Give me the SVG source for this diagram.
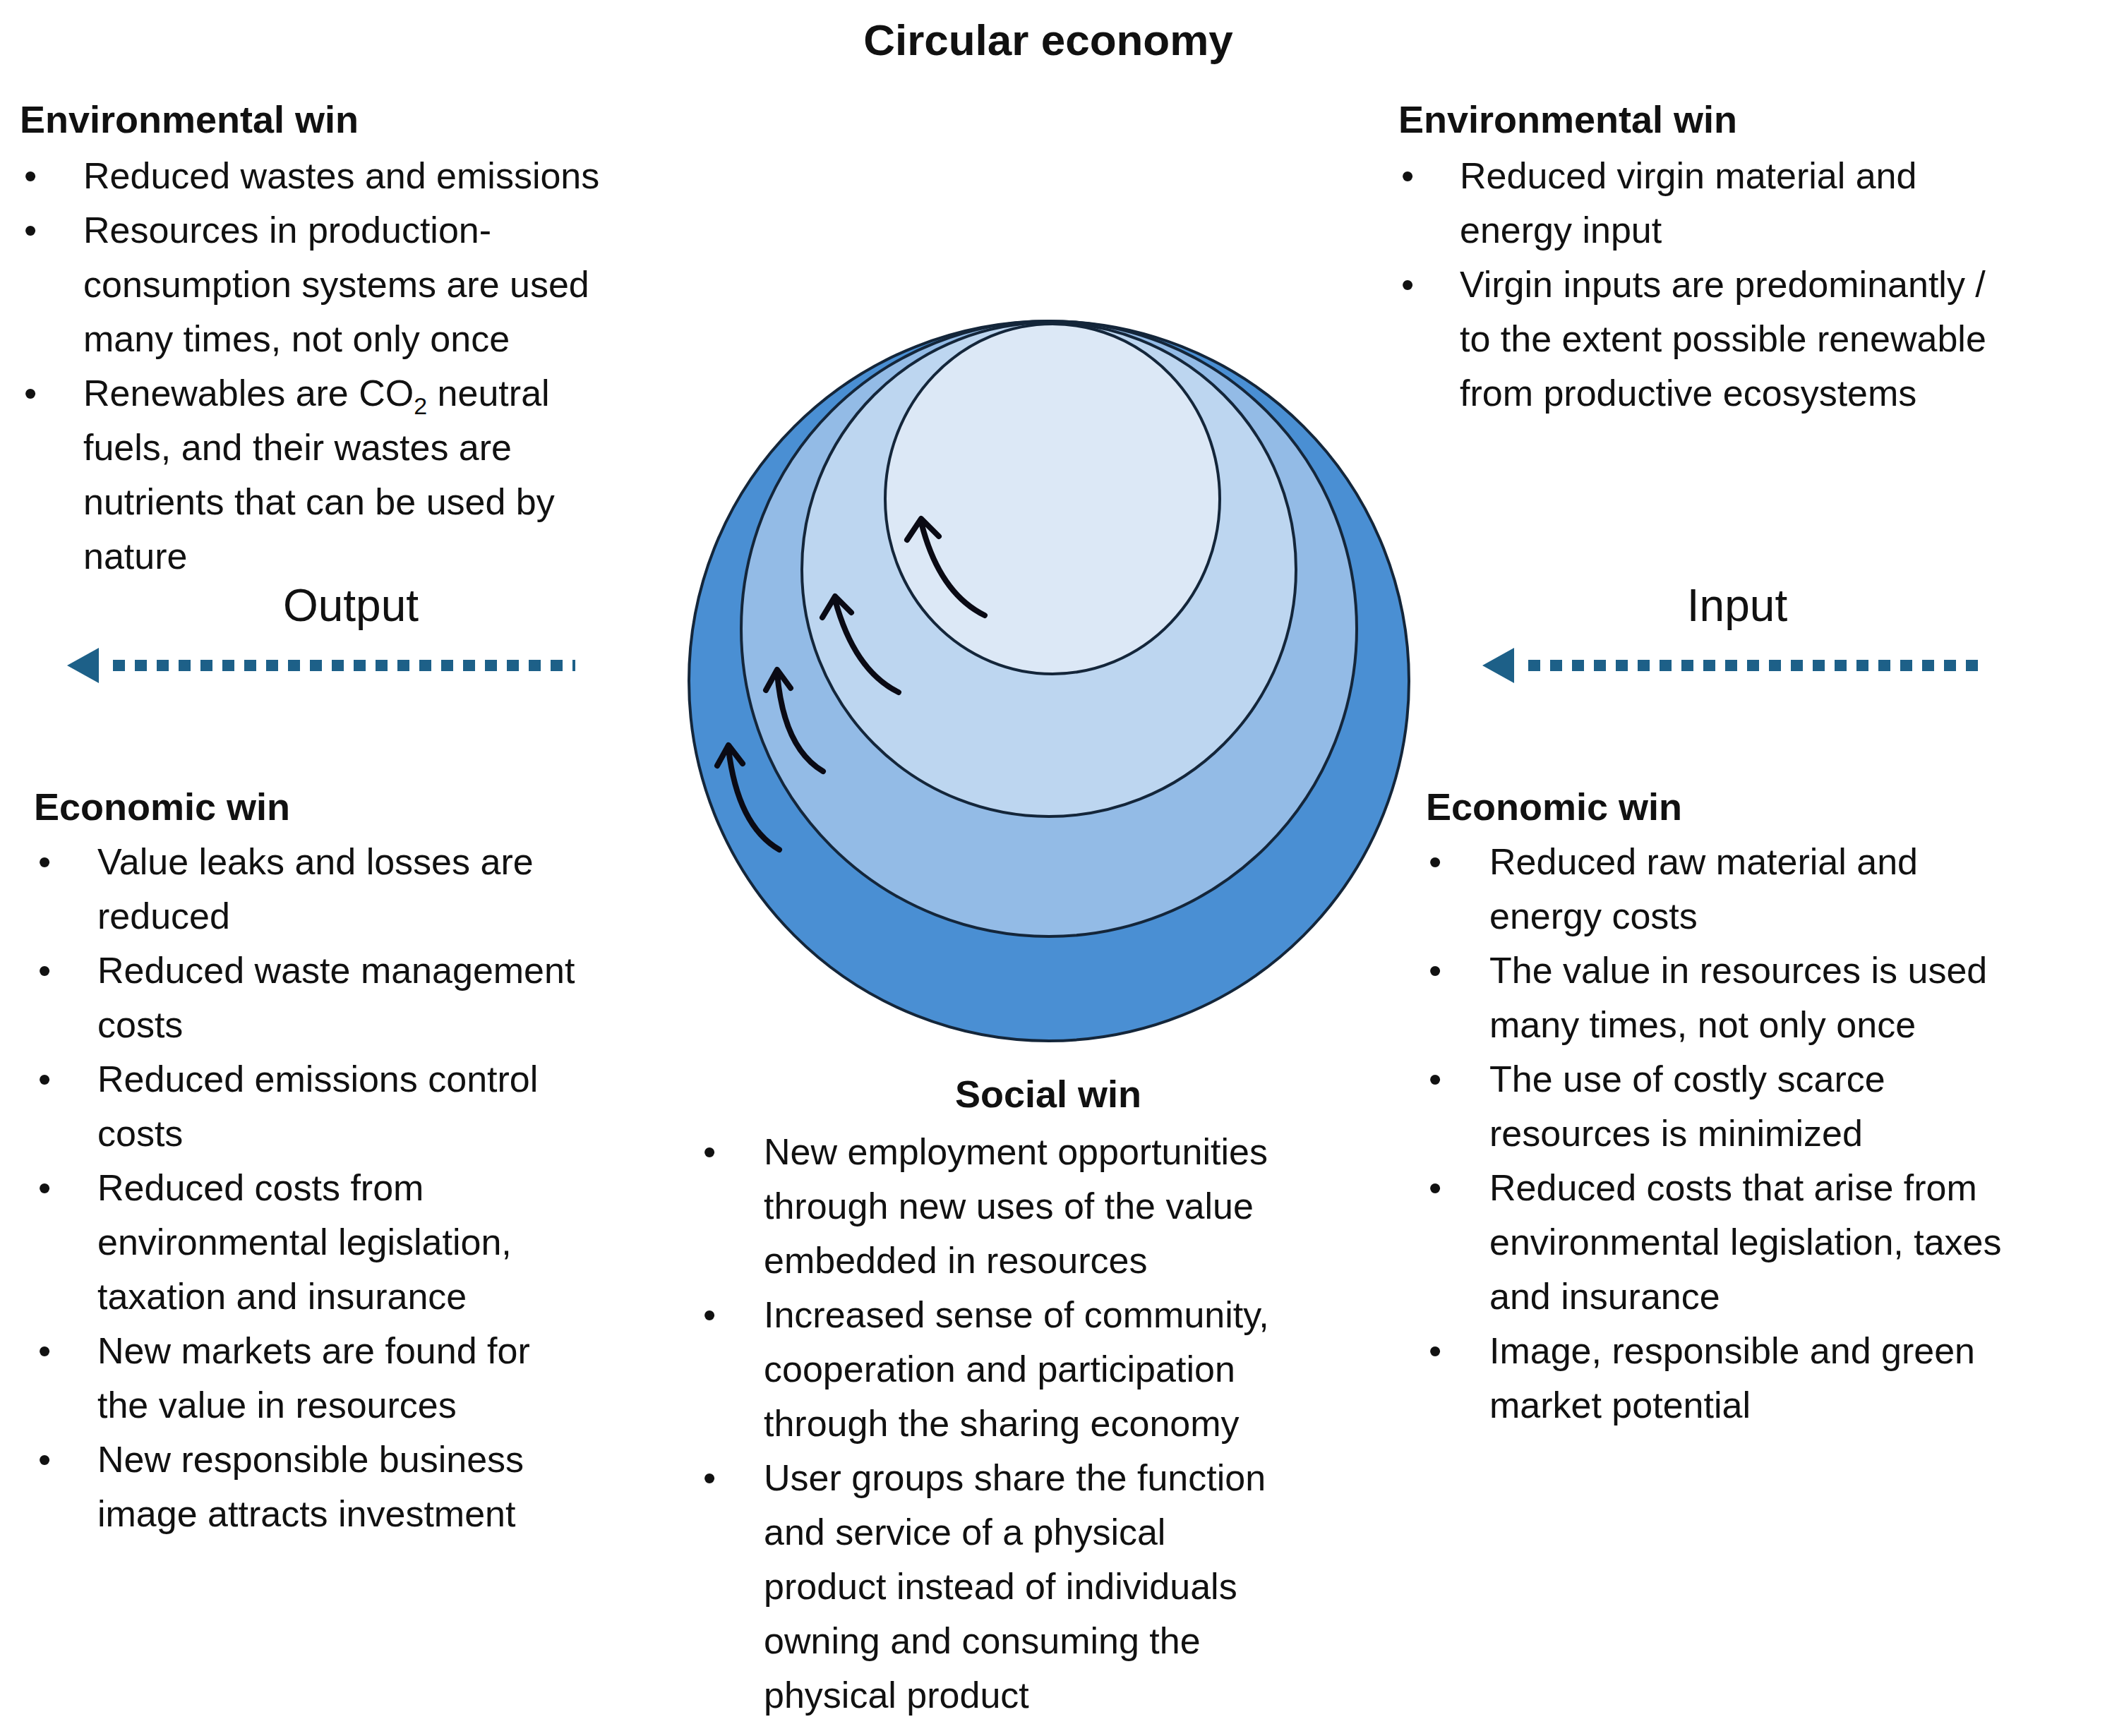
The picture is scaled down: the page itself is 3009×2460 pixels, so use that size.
<svg xmlns="http://www.w3.org/2000/svg" width="3009" height="2460" viewBox="0 0 3009 2460">
<style>
text{font-family:"Liberation Sans",Arial,sans-serif;fill:#111;}
.t{font-size:52px;}
.h{font-size:54px;font-weight:bold;}
.ttl{font-size:62px;font-weight:bold;}
.lbl{font-size:64px;}
.ring{stroke:#14263a;stroke-width:4;}
.carr{fill:none;stroke:#0a0a14;stroke-width:8;stroke-linecap:round;stroke-linejoin:round;}
.dash{stroke:#1d6088;stroke-width:16;stroke-dasharray:17 14;}
</style>
<rect width="3009" height="2460" fill="#fff"/>
<text class="ttl" x="1485" y="78" text-anchor="middle">Circular economy</text>
<g id="circles">
<circle class="ring" cx="1486" cy="965" r="510" fill="#4a8fd3"/>
<circle class="ring" cx="1486" cy="891" r="436" fill="#93bbe6"/>
<circle class="ring" cx="1486" cy="807" r="350" fill="#bdd6f0"/>
<ellipse class="ring" cx="1491" cy="707" rx="237" ry="248" fill="#dce8f6"/>
</g>
<g id="connectors">
<path class="carr" d="M1395,872 Q1330,840 1305,740 M1285,765 L1305,735 L1330,760"/>
<path class="carr" d="M1273,981 Q1210,950 1183,850 M1165,875 L1183,845 L1206,868"/>
<path class="carr" d="M1166,1093 Q1110,1060 1101,954 M1085,978 L1101,949 L1120,975"/>
<path class="carr" d="M1104,1204 Q1045,1170 1032,1061 M1016,1085 L1032,1056 L1052,1082"/>
<line class="dash" x1="160" y1="943" x2="815" y2="943"/>
<polygon points="95,943 140,918 140,968" fill="#1d6088"/>
<line class="dash" x1="2165" y1="943" x2="2810" y2="943"/>
<polygon points="2100,943 2145,918 2145,968" fill="#1d6088"/>
</g>
<g id="output"><text class="lbl" x="497" y="880" text-anchor="middle">Output</text></g>
<g id="input"><text class="lbl" x="2461" y="880" text-anchor="middle">Input</text></g>
<g id="env-left">
<text class="h" x="28" y="188">Environmental win</text>
<text class="t" x="34" y="267">•</text><text class="t" x="34" y="344">•</text><text class="t" x="34" y="575">•</text>
<text class="t" x="118" y="267">Reduced wastes and emissions</text>
<text class="t" x="118" y="344">Resources in production-</text>
<text class="t" x="118" y="421">consumption systems are used</text>
<text class="t" x="118" y="498">many times, not only once</text>
<text class="t" x="118" y="575">Renewables are CO<tspan font-size="34" dy="12">2</tspan><tspan dy="-12"> neutral</tspan></text>
<text class="t" x="118" y="652">fuels, and their wastes are</text>
<text class="t" x="118" y="729">nutrients that can be used by</text>
<text class="t" x="118" y="806">nature</text>
</g>
<g id="env-right">
<text class="h" x="1981" y="188">Environmental win</text>
<text class="t" x="1985" y="267">•</text><text class="t" x="1985" y="421">•</text>
<text class="t" x="2068" y="267">Reduced virgin material and</text>
<text class="t" x="2068" y="344">energy input</text>
<text class="t" x="2068" y="421">Virgin inputs are predominantly /</text>
<text class="t" x="2068" y="498">to the extent possible renewable</text>
<text class="t" x="2068" y="575">from productive ecosystems</text>
</g>
<g id="econ-left">
<text class="h" x="48" y="1162">Economic win</text>
<text class="t" x="54" y="1239">•</text><text class="t" x="54" y="1393">•</text><text class="t" x="54" y="1547">•</text><text class="t" x="54" y="1701">•</text><text class="t" x="54" y="1932">•</text><text class="t" x="54" y="2086">•</text>
<text class="t" x="138" y="1239">Value leaks and losses are</text>
<text class="t" x="138" y="1316">reduced</text>
<text class="t" x="138" y="1393">Reduced waste management</text>
<text class="t" x="138" y="1470">costs</text>
<text class="t" x="138" y="1547">Reduced emissions control</text>
<text class="t" x="138" y="1624">costs</text>
<text class="t" x="138" y="1701">Reduced costs from</text>
<text class="t" x="138" y="1778">environmental legislation,</text>
<text class="t" x="138" y="1855">taxation and insurance</text>
<text class="t" x="138" y="1932">New markets are found for</text>
<text class="t" x="138" y="2009">the value in resources</text>
<text class="t" x="138" y="2086">New responsible business</text>
<text class="t" x="138" y="2163">image attracts investment</text>
</g>
<g id="econ-right">
<text class="h" x="2020" y="1162">Economic win</text>
<text class="t" x="2024" y="1239">•</text><text class="t" x="2024" y="1393">•</text><text class="t" x="2024" y="1547">•</text><text class="t" x="2024" y="1701">•</text><text class="t" x="2024" y="1932">•</text>
<text class="t" x="2110" y="1239">Reduced raw material and</text>
<text class="t" x="2110" y="1316">energy costs</text>
<text class="t" x="2110" y="1393">The value in resources is used</text>
<text class="t" x="2110" y="1470">many times, not only once</text>
<text class="t" x="2110" y="1547">The use of costly scarce</text>
<text class="t" x="2110" y="1624">resources is minimized</text>
<text class="t" x="2110" y="1701">Reduced costs that arise from</text>
<text class="t" x="2110" y="1778">environmental legislation, taxes</text>
<text class="t" x="2110" y="1855">and insurance</text>
<text class="t" x="2110" y="1932">Image, responsible and green</text>
<text class="t" x="2110" y="2009">market potential</text>
</g>
<g id="social">
<text class="h" x="1485" y="1569" text-anchor="middle">Social win</text>
<text class="t" x="996" y="1650">•</text><text class="t" x="996" y="1881">•</text><text class="t" x="996" y="2112">•</text>
<text class="t" x="1082" y="1650">New employment opportunities</text>
<text class="t" x="1082" y="1727">through new uses of the value</text>
<text class="t" x="1082" y="1804">embedded in resources</text>
<text class="t" x="1082" y="1881">Increased sense of community,</text>
<text class="t" x="1082" y="1958">cooperation and participation</text>
<text class="t" x="1082" y="2035">through the sharing economy</text>
<text class="t" x="1082" y="2112">User groups share the function</text>
<text class="t" x="1082" y="2189">and service of a physical</text>
<text class="t" x="1082" y="2266">product instead of individuals</text>
<text class="t" x="1082" y="2343">owning and consuming the</text>
<text class="t" x="1082" y="2420">physical product</text>
</g>
</svg>
